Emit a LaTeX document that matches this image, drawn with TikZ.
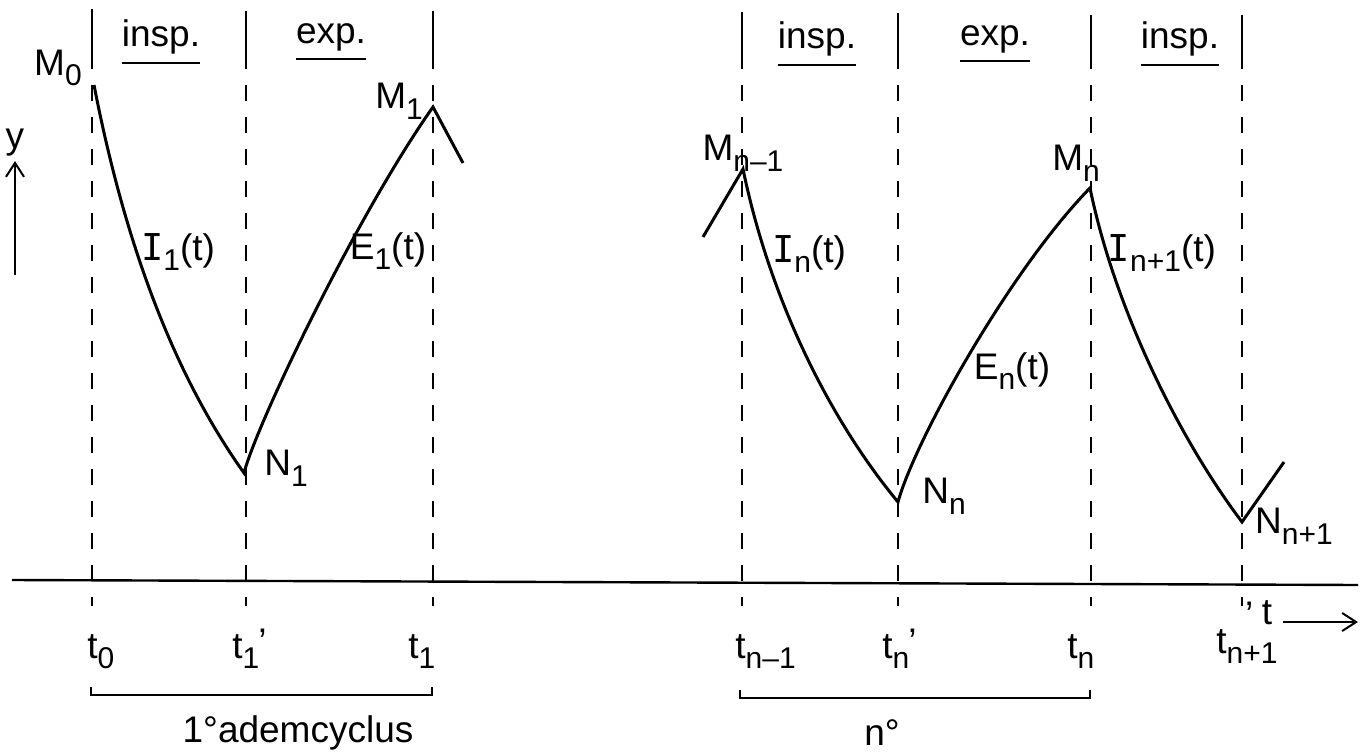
\documentclass[tikz,border=0pt]{standalone}
\usepackage{fontspec}
\setmainfont{Liberation Sans}
\newfontfamily\serI{DejaVu Sans Mono}
\usetikzlibrary{arrows.meta}
\newcommand{\sbs}[1]{\raisebox{-0.55ex}{\fontsize{15}{15}\selectfont #1}}
\newcommand{\lblfont}{\fontsize{18.5}{20}\selectfont}
\tikzset{
  lab/.style={font=\lblfont, inner sep=0pt},
  curve/.style={line width=1.5pt, line join=miter},
  topline/.style={line width=1.2pt},
  dashline/.style={line width=1.1pt, dash pattern=on 8pt off 8pt},
  axisline/.style={line width=1.2pt},
  bracket/.style={line width=1pt},
  uline/.style={line width=0.9pt},
  arr/.style={line width=1pt, -{Straight Barb[length=7pt,width=9pt,line width=1pt]}}
}
\begin{document}
\begin{tikzpicture}[x=0.5pt,y=-0.5pt]
\useasboundingbox (0,0) rectangle (1372,755);

% vertical lines: top solid part, then dashed part
\foreach \n/\x/\yt in {a/92/9, b/246/11, c/433/11, d/742/12, e/898/13, f/1091/15, g/1242/15}{
  \coordinate (\n1) at (\x,\yt);
  \coordinate (\n2) at (\x,69);
  \coordinate (\n3) at (\x,85);
  \coordinate (\n4) at (\x,606);
  \draw[topline] (\n1) -- (\n2);
  \draw[dashline] (\n3) -- (\n4);
}

% time axis
\coordinate (axL) at (12,580);
\coordinate (axR) at (1358,585);
\draw[axisline] (axL) -- (axR);

% curve points
\coordinate (M0) at (94,85);
\coordinate (N1) at (244,473);
\coordinate (M1) at (433,107);
\coordinate (T1) at (463,163);
\coordinate (T0) at (703,237);
\coordinate (Mn1) at (743,169);
\coordinate (Nn) at (898,502);
\coordinate (Mn) at (1090,188);
\coordinate (Nn1) at (1242,522);
\coordinate (T2) at (1284,462);

\draw[curve] (M0) .. controls (130,270) and (185,390) .. (N1)
             .. controls (258,420) and (360,210) .. (M1) -- (T1);
\draw[curve] (T0) -- (Mn1) .. controls (770,300) and (830,420) .. (Nn)
             .. controls (915,440) and (1010,270) .. (Mn)
             .. controls (1115,310) and (1180,440) .. (Nn1) -- (T2);

% point labels
\node[lab] (lM0) at (58,68) {M\sbs{0}};
\node[lab] (lM1) at (399,101) {M\sbs{1}};
\node[lab] (lN1) at (286,468) {N\sbs{1}};
\node[lab] (lMn1) at (743,153) {M\sbs{n–1}};
\node[lab] (lMn) at (1076,163) {M\sbs{n}};
\node[lab] (lNn) at (944,496) {N\sbs{n}};
\node[lab] (lNn1) at (1294,526) {N\sbs{n+1}};

% curve labels
\node[lab] (lI1) at (178,252) {{\serI I}\sbs{1}(t)};
\node[lab] (lE1) at (388,251) {E\sbs{1}(t)};
\node[lab] (lIn) at (809,254) {{\serI I}\sbs{n}(t)};
\node[lab] (lEn) at (1012,371) {E\sbs{n}(t)};
\node[lab] (lIn1) at (1162,253) {{\serI I}\sbs{n+1}(t)};

% phase labels with underlines
\node[lab] (p1) at (161,37) {insp.};
\node[lab] (p2) at (331,37) {exp.};
\node[lab] (p3) at (817,39) {insp.};
\node[lab] (p4) at (995,39) {exp.};
\node[lab] (p5) at (1180,39) {insp.};
\draw[uline] ([yshift=-4pt]p1.south west) -- ([yshift=-4pt]p1.south east);
\draw[uline] ([yshift=-4pt]p2.south west) -- ([yshift=-4pt]p2.south east);
\draw[uline] ([yshift=-4pt]p3.south west) -- ([yshift=-4pt]p3.south east);
\draw[uline] ([yshift=-4pt]p4.south west) -- ([yshift=-4pt]p4.south east);
\draw[uline] ([yshift=-4pt]p5.south west) -- ([yshift=-4pt]p5.south east);

% time labels (anchored on their baseline)
\node[lab, anchor=base west] (t0) at (87,658) {t\sbs{0}};
\node[lab, anchor=base west] (t1p) at (232,658) {t\sbs{1}\kern-0.5pt\raisebox{0.2ex}{’}};
\node[lab, anchor=base west] (t1) at (408,658) {t\sbs{1}};
\node[lab, anchor=base west] (tn1) at (735,658) {t\sbs{n–1}};
\node[lab, anchor=base west] (tnp) at (882,658) {t\sbs{n}\kern-0.5pt\raisebox{0.2ex}{’}};
\node[lab, anchor=base west] (tn) at (1067,658) {t\sbs{n}};
\node[lab, anchor=base west] (tn1p) at (1216,653) {t\rlap{\raisebox{1.3ex}{\kern0.5em’}}\sbs{n+1}};

% axis labels and arrows
\node[lab] (ylab) at (15,143) {y};
\coordinate (yA) at (15,275);
\coordinate (yB) at (15,161);
\draw[arr] (yA) -- (yB);
\node[lab] (tlab) at (1267,613) {t};
\coordinate (tA) at (1283,622);
\coordinate (tB) at (1358,622);
\draw[arr] (tA) -- (tB);

% brackets
\coordinate (b1a) at (91,687);
\coordinate (b1b) at (91,695);
\coordinate (b1c) at (432,695);
\coordinate (b1d) at (432,687);
\draw[bracket] (b1a) -- (b1b) -- (b1c) -- (b1d);
\coordinate (b2a) at (740,690);
\coordinate (b2b) at (740,698);
\coordinate (b2c) at (1090,698);
\coordinate (b2d) at (1090,690);
\draw[bracket] (b2a) -- (b2b) -- (b2c) -- (b2d);
\node[lab] (cyc1) at (298,733) {1°ademcyclus};
\node[lab] (cycn) at (882,733) {n°};
\end{tikzpicture}
\end{document}
